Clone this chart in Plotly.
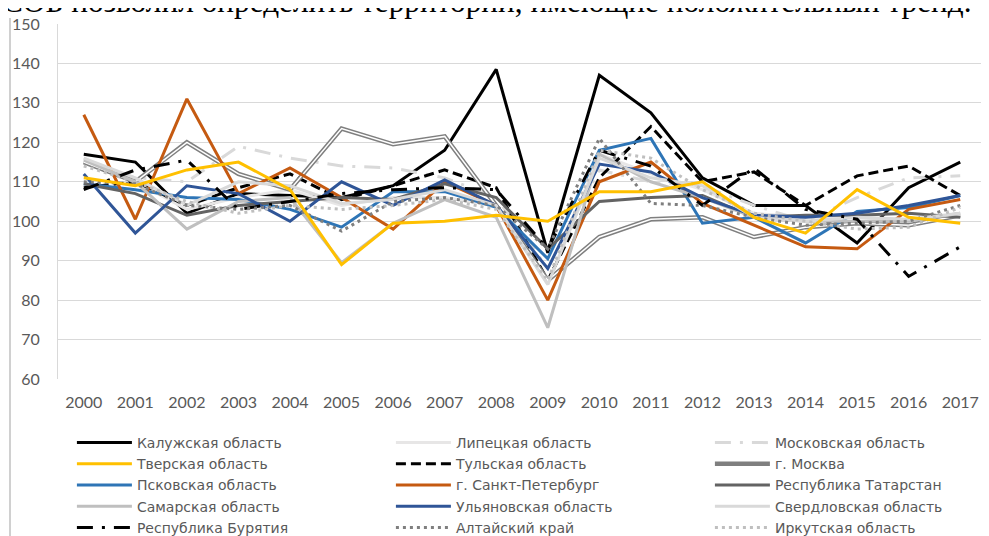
import plotly.graph_objects as go

years = [str(y) for y in range(2000, 2018)]

kaluga      = [117, 115, 102, 107, 106.5, 106, 109, 118, 138.5, 92, 137, 127.5, 111, 104, 104, 94.5, 108.5, 115]
lipetsk     = [116, 110, 103, 106, 108, 104, 106, 106, 104, 84, 117, 112, 108, 102, 101, 101, 100, 102]
moscow_obl  = [115, 111, 110, 119, 116, 114, 113.5, 111, 106, 88, 113, 110, 109, 104, 100, 106, 111, 111.5]
tver        = [111, 109, 113, 115, 108, 89, 99.5, 100, 101.5, 100, 107.5, 107.5, 110, 101, 97, 108, 101, 99.5]
tula        = [108.5, 110, 104, 108.5, 112, 105.5, 109, 113, 108.5, 85, 111, 124, 110, 112.5, 104, 111.5, 114, 106.5]
moscow      = [115, 110, 120, 112, 108, 123.5, 119.5, 121.5, 104, 85, 96, 100.5, 101, 96, 98.5, 99.5, 99, 101.5]
pskov       = [109.5, 108, 106, 105.5, 103, 98.5, 107.5, 107.5, 103.5, 90.5, 118, 121, 99.5, 101, 94.5, 102.5, 103.5, 106.5]
spb         = [127, 100.5, 131, 107, 113.5, 106, 98, 110, 104, 80, 110, 115, 104.5, 99, 93.5, 93, 103, 105.5]
tatarstan   = [109.5, 107, 101.5, 104, 105, 106, 105.5, 109.5, 106, 93, 105, 106, 106.5, 101, 101.5, 101.5, 102, 101]
samara      = [115.5, 110, 98, 105, 106, 89.5, 99.5, 105.5, 101, 73, 117, 110, 106, 101, 100, 100, 100, 102]
ulyanovsk   = [112, 97, 109, 107, 100, 110, 104, 110.5, 104, 88, 114.5, 112.5, 106, 101.5, 101, 102, 104, 106.5]
sverdlovsk  = [116, 111, 104, 110, 109, 104.5, 105.5, 108, 104, 84, 116, 111, 109, 101, 100, 101, 100.5, 102]
buryatia    = [108, 113, 115.5, 103, 105, 107, 108, 108.5, 108, 93, 118, 114, 104, 113.5, 103, 100.5, 86, 93.5]
altai       = [110, 109.5, 104, 103, 104, 97.5, 105, 106, 104, 93, 121, 104.5, 104, 101, 99, 99.5, 100, 104]
irkutsk     = [114, 110, 105, 102, 104, 103, 104, 105.5, 103, 85, 118, 116, 108, 102, 100, 98, 98.5, 103.5]

# (legend name, values, colour, dash) in legend order
series = [
    ("Калужская область", kaluga, "#000000", "solid"),
    ("Липецкая область", lipetsk, "#E7E6E6", "solid"),
    ("Московская область", moscow_obl, "#D9D9D9", "16px,9px,3px,9px"),
    ("Тверская область", tver, "#FFC000", "solid"),
    ("Тульская область", tula, "#000000", "10px,5px"),
    ("г. Москва", moscow, "#7F7F7F", "double"),
    ("Псковская область", pskov, "#2E75B6", "solid"),
    ("г. Санкт-Петербург", spb, "#C55A11", "solid"),
    ("Республика Татарстан", tatarstan, "#636363", "solid"),
    ("Самарская область", samara, "#BFBFBF", "solid"),
    ("Ульяновская область", ulyanovsk, "#2F5597", "solid"),
    ("Свердловская область", sverdlovsk, "#D9D9D9", "solid"),
    ("Республика Бурятия", buryatia, "#000000", "16px,9px,3px,9px"),
    ("Алтайский край", altai, "#7F7F7F", "3px,4px"),
    ("Иркутская область", irkutsk, "#BFBFBF", "3px,4px"),
]

# drawing order: yellow line on top of the others
draw_order = [i for i in range(len(series)) if series[i][2] != "#FFC000"] + \
             [i for i in range(len(series)) if series[i][2] == "#FFC000"]

fig = go.Figure()
for i in draw_order:
    name, vals, color, dash = series[i]
    rank = (i + 1) * 10
    if dash == "double":
        fig.add_trace(go.Scatter(x=years, y=vals, name=name, mode="lines",
                                 legendrank=rank,
                                 line=dict(color=color, width=4.5)))
        fig.add_trace(go.Scatter(x=years, y=vals, name=name, mode="lines",
                                 showlegend=False, hoverinfo="skip",
                                 line=dict(color="#FFFFFF", width=1.5)))
    else:
        fig.add_trace(go.Scatter(x=years, y=vals, name=name, mode="lines",
                                 legendrank=rank,
                                 line=dict(color=color, width=3, dash=dash)))

# the page shows the figure with an 8px body offset, so the figure is 8px smaller
W, H = 981, 528
L, R, T, B = 50, 3, 16, 157
PLOT_W = W - L - R
PLOT_H = H - T - B

fig.update_layout(
    width=W, height=H,
    margin=dict(l=L, r=R, t=T, b=B, autoexpand=False),
    paper_bgcolor="white", plot_bgcolor="white",
    font=dict(family="Lato", color="#595959"),
    showlegend=True,
    legend=dict(
        orientation="h", x=-0.0001, xanchor="left",
        y=-(405 - (H - B)) / PLOT_H, yanchor="top",
        entrywidth=249, entrywidthmode="pixels", itemwidth=55,
        borderwidth=14, bordercolor="rgba(255,255,255,0)",
        font=dict(family="DejaVu Sans", size=14, color="#595959"),
        bgcolor="rgba(0,0,0,0)", traceorder="normal",
    ),
    xaxis=dict(type="category", range=[-0.5, 17.5], showgrid=False,
               showline=False, ticks="", tickfont=dict(size=16, color="#595959"),
               ticklabelstandoff=12, zeroline=False),
    yaxis=dict(range=[60, 150], dtick=10, showgrid=True, gridcolor="#D9D9D9",
               gridwidth=1, showline=True, linecolor="#D9D9D9", ticks="",
               tickfont=dict(size=16, color="#595959"), ticklabelstandoff=14,
               zeroline=False),
    shapes=[dict(type="line", xref="paper", yref="paper",
                 x0=(2 - L) / PLOT_W, x1=(2 - L) / PLOT_W,
                 y0=-0.5, y1=1 + (T - 10) / PLOT_H,
                 line=dict(color="#D0D0D0", width=2))],
    annotations=[dict(
        text="СОБ позволил определить территории, имеющие положительный тренд.",
        xref="paper", yref="paper", x=(-8 - L) / PLOT_W, xanchor="left",
        y=1.0 + (T - 13) / PLOT_H, yanchor="bottom", showarrow=False,
        font=dict(family="Liberation Serif", size=31.3, color="#000000"),
    )],
)

fig.write_html("out.html")
